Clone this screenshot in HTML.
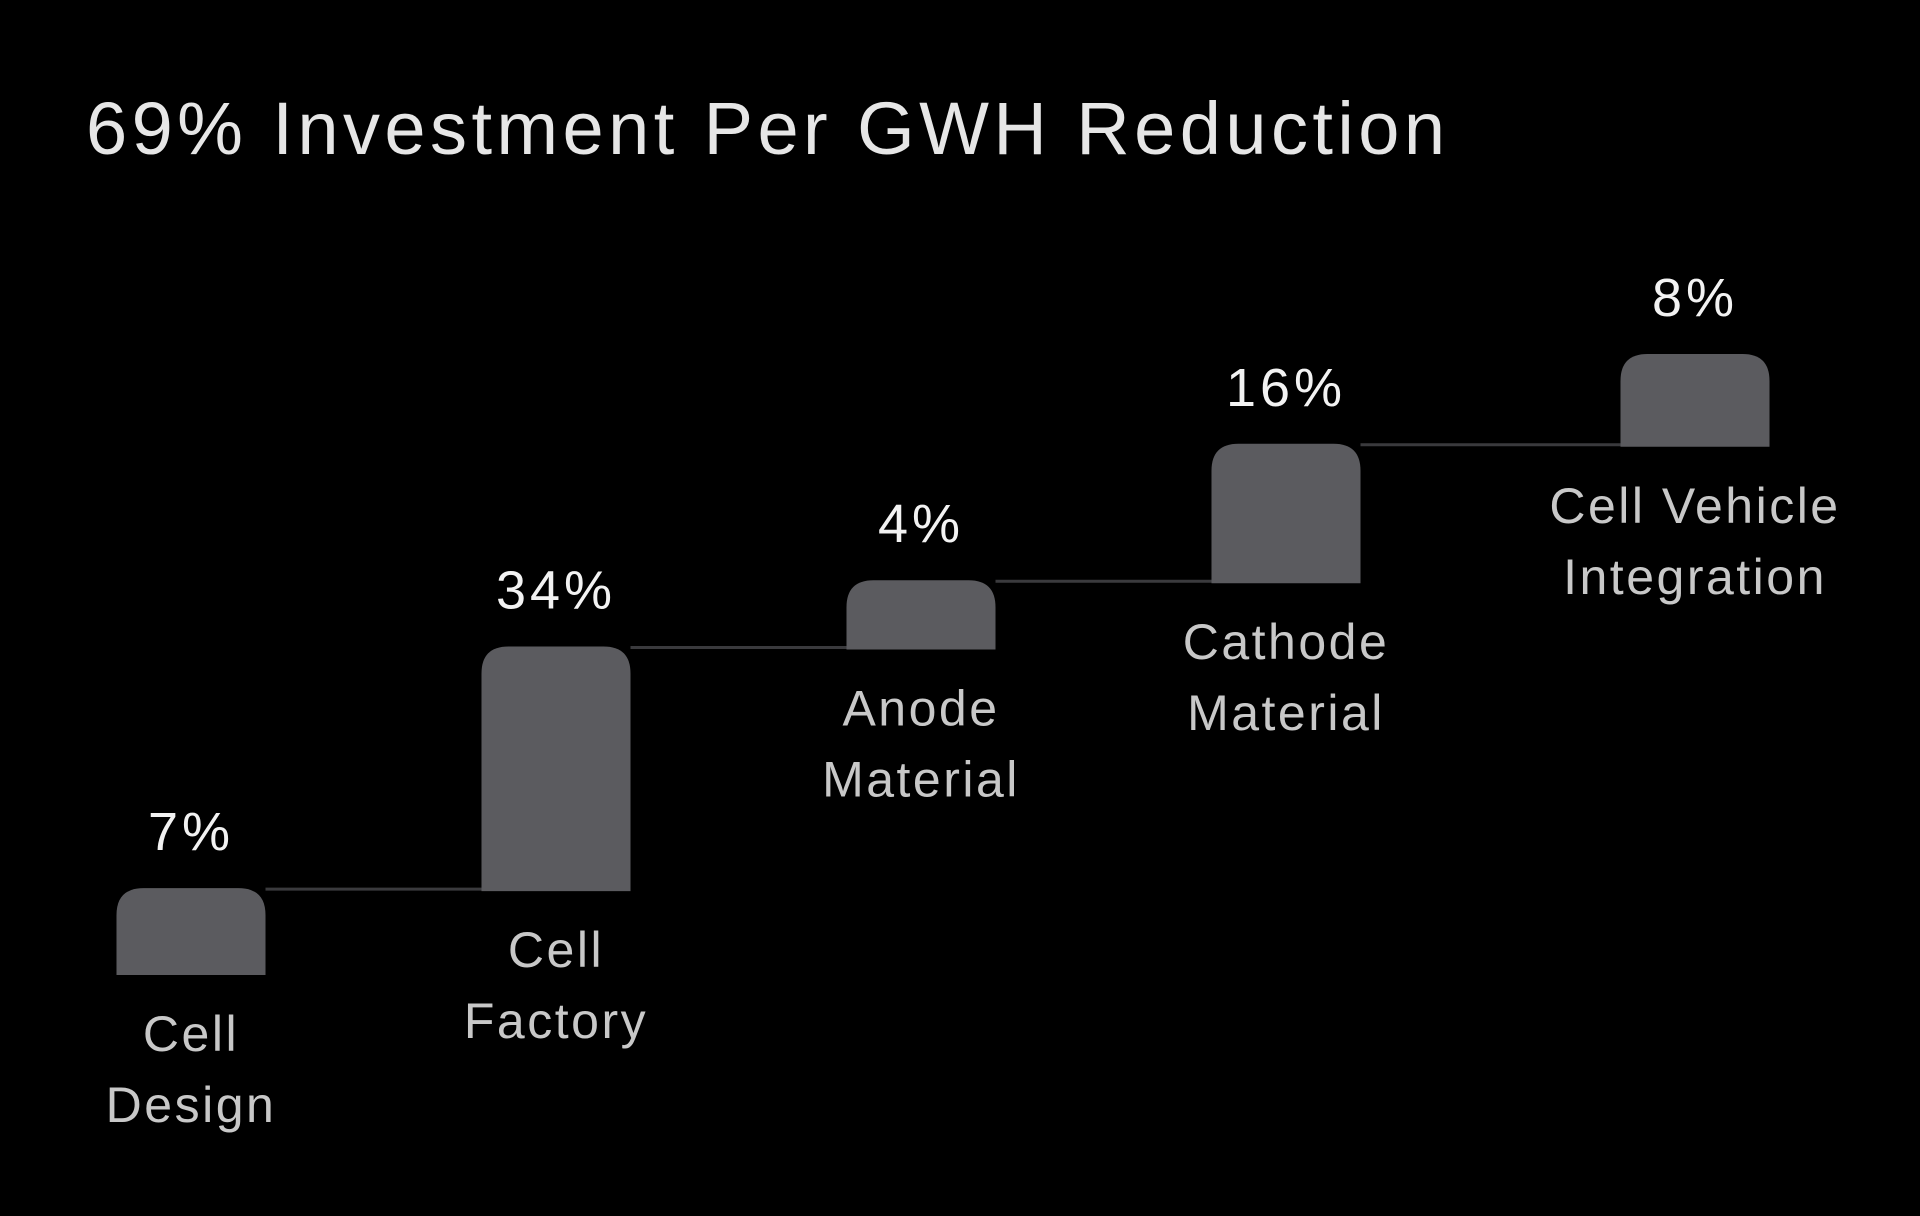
<!DOCTYPE html>
<html>
<head>
<meta charset="utf-8">
<style>
  html, body { margin:0; padding:0; background:#000; }
  body { width:1920px; height:1216px; overflow:hidden; }
  svg { display:block; }
</style>
</head>
<body>
<svg id="chart" width="1920" height="1216" viewBox="0 0 1920 1216" xmlns="http://www.w3.org/2000/svg">
  <rect width="1920" height="1216" fill="#000"/>
  <text x="86" y="154" fill="#e6e6e6" font-family="Liberation Sans, sans-serif" font-size="74" textLength="1359" lengthAdjust="spacing">69% Investment Per GWH Reduction</text>
  <g id="marks"></g>
</svg>
<script>
const categories = [["Cell","Design"],["Cell","Factory"],["Anode","Material"],["Cathode","Material"],["Cell Vehicle","Integration"]];
const values = [7, 34, 4, 16, 8];
const valueLabels = ["7%", "34%", "4%", "16%", "8%"];

const NS = "http://www.w3.org/2000/svg";
const g = document.getElementById("marks");
const baseline = 975;
const barW = 149;
const radius = 27;
function hScale(v) { return 46 + 5.84 * v; }
function xCenter(i) { return 191 + i * 365 + (i === 4 ? 44 : 0); }

function mk(tag, attrs) {
  const el = document.createElementNS(NS, tag);
  for (const k in attrs) el.setAttribute(k, attrs[k]);
  return el;
}

let bottom = baseline;
let prevTop = null, prevRight = null;
values.forEach((v, i) => {
  const h = hScale(v);
  const top = bottom - h;
  const cx = xCenter(i);
  const x0 = cx - barW / 2, x1 = cx + barW / 2;
  if (prevTop !== null) {
    const line = mk("line", {x1: prevRight, y1: prevTop + 1, x2: x0, y2: prevTop + 1, stroke: "#3a3a3d", "stroke-width": 3});
    
    
    g.appendChild(line);
  }
  const r = Math.min(radius, h / 2);
  const d = `M${x0},${bottom} L${x0},${top + r} Q${x0},${top} ${x0 + r},${top} L${x1 - r},${top} Q${x1},${top} ${x1},${top + r} L${x1},${bottom} Z`;
  const bar = mk("path", {d: d, fill: "#5b5b5f"});
  
  
  g.appendChild(bar);

  const vl = mk("text", {x: cx, y: top - 38, fill: "#f2f2f2", "font-family": "Liberation Sans, sans-serif", "font-size": "54", "letter-spacing": "4", "text-anchor": "middle"});
  vl.textContent = valueLabels[i];
  
  
  g.appendChild(vl);

  categories[i].forEach((line, j) => {
    const t = mk("text", {x: cx, y: bottom + 76 + j * 71, fill: "#c8c8c8", "font-family": "Liberation Sans, sans-serif", "font-size": "50", "letter-spacing": "2.5", "text-anchor": "middle"});
    t.textContent = line;
    
    
    g.appendChild(t);
  });

  prevTop = top;
  prevRight = x1;
  bottom = top + 3;
});
</script>
</body>
</html>
